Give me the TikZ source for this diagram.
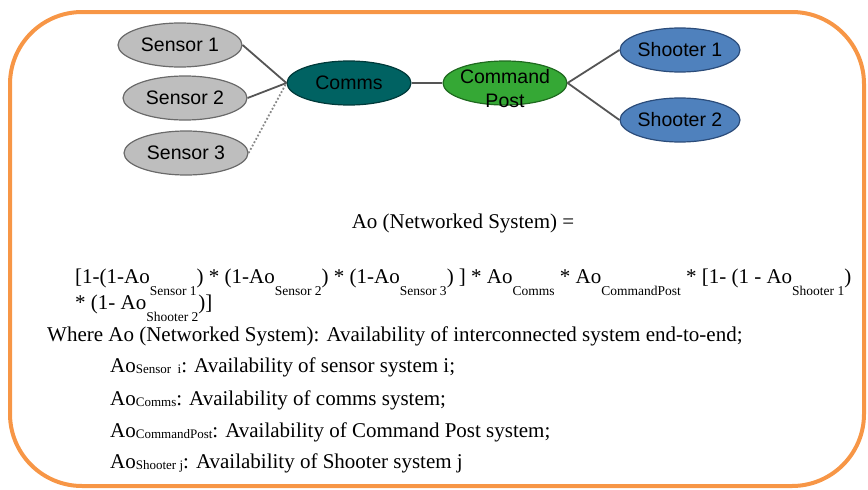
\documentclass[tikz,border=0pt]{standalone}
\usepackage{fontspec}
\setmainfont{Liberation Serif}
\newfontfamily\nodefont{Liberation Sans}
\usetikzlibrary{shapes.geometric}

\definecolor{frameorange}{HTML}{F79646}
\definecolor{sensorgray}{HTML}{BEBEBE}
\definecolor{sensorline}{HTML}{6A6A6A}
\definecolor{commsteal}{HTML}{006262}
\definecolor{commsline}{HTML}{003A3A}
\definecolor{cpgreen}{HTML}{35A835}
\definecolor{cpline}{HTML}{1F6A1F}
\definecolor{shooterblue}{HTML}{4F81BD}
\definecolor{shooterline}{HTML}{2B4C7A}
\definecolor{linkgray}{HTML}{555555}

% lowered subscripts used in the formula and in the definitions
\newcommand{\lowsub}[1]{\raisebox{-12pt}{\fontsize{13.5}{14}\selectfont #1}}
\newcommand{\defsub}[1]{\raisebox{-1.5pt}{\fontsize{13}{13}\selectfont #1}}

\begin{document}
\begin{tikzpicture}[x=1pt,y=-1pt,
  unit/.style={ellipse, draw, line width=1.2pt, inner sep=0pt,
    minimum width=124pt, minimum height=44pt,
    font=\nodefont\fontsize{19.5}{22}\selectfont},
  sensor/.style={unit, fill=sensorgray, draw=sensorline},
  comms/.style={unit, fill=commsteal, draw=commsline},
  cpost/.style={unit, fill=cpgreen, draw=cpline},
  shooter/.style={unit, fill=shooterblue, draw=shooterline, minimum width=120pt},
  link/.style={draw=linkgray, line width=1.8pt},
  weaklink/.style={draw=linkgray!70, line width=1.8pt, dotted},
  txt/.style={anchor=base west, inner sep=0pt, font=\fontsize{21}{24}\selectfont}]

\useasboundingbox (0,0) rectangle (868,490);
\draw[frameorange, line width=4pt, rounded corners=72pt] (10,12) rectangle (864,486);

% network of systems
\node[sensor]  (s1) at (180,45)  {Sensor 1};
\node[sensor]  (s2) at (185,98)  {Sensor 2};
\node[sensor]  (s3) at (186,153) {Sensor 3};
\node[comms]   (cm) at (349,83)  {Comms};
\node[cpost]   (cp) at (505,83)
  {\makebox[0pt]{\raisebox{-13pt}[0pt][0pt]{\begin{tabular}{@{}c@{}}Command\\[2pt]Post\end{tabular}}}};
\node[shooter] (h1) at (680,50)  {Shooter 1};
\node[shooter] (h2) at (680,120) {Shooter 2};

\draw[link] (s1.east) -- (cm.west);
\draw[link] (s2.east) -- (cm.west);
\draw[weaklink] (s3.east) -- (cm.west);
\draw[link] (cm.east) -- (cp.west);
\draw[link] (cp.east) -- (h1.west);
\draw[link] (cp.east) -- (h2.west);

% availability formula
\node[txt, anchor=base] (title) at (463,228) {Ao (Networked System) =};
\node[txt] (f1) at (75,283) {[1-(1-Ao\lowsub{Sensor 1}) * (1-Ao\lowsub{Sensor 2}) * (1-Ao\lowsub{Sensor 3}) ] * Ao\lowsub{Comms} * Ao\lowsub{CommandPost} * [1- (1 - Ao\lowsub{Shooter 1})};
\node[txt] (f2) at (75,309) {* (1- Ao\lowsub{Shooter 2})]};
\node[txt] (w0) at (47,341) {Where Ao (Networked System): Availability of interconnected system end-to-end;};
\node[txt] (w1) at (110,372) {Ao\defsub{Sensor\ \ i}: Availability of sensor system i;};
\node[txt] (w2) at (110,405) {Ao\defsub{Comms}: Availability of comms system;};
\node[txt] (w3) at (110,437) {Ao\defsub{CommandPost}: Availability of Command Post system;};
\node[txt] (w4) at (110,468) {Ao\defsub{Shooter j}: Availability of Shooter system j};
\end{tikzpicture}
\end{document}
